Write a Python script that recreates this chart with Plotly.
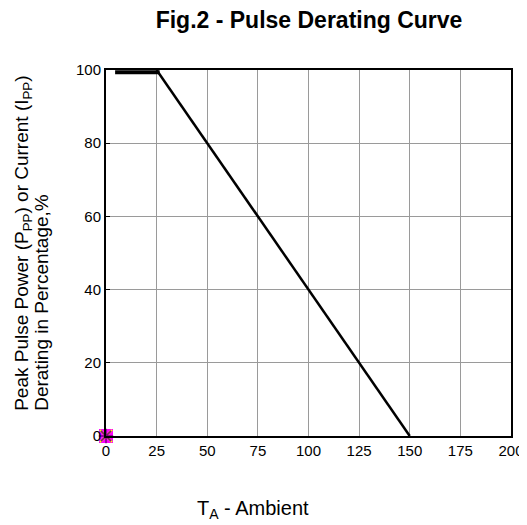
import plotly.graph_objects as go

# Data
derating_temp = [25, 150]          # T_A
derating_pct = [100, 0]            # % derating
flat_temp = [4.5, 26.5]            # flat top segment
flat_pct = [99.4, 99.4]
origin_x = [0]
origin_y = [0]
x_ticks = [0, 25, 50, 75, 100, 125, 150, 175, 200]
y_ticks = [0, 20, 40, 60, 80, 100]
y_title_lines = ["Peak Pulse Power (P<sub>PP</sub>) or Current (I<sub>PP</sub>)",
                 "Derating in Percentage,%"]

fig = go.Figure()
fig.add_trace(go.Scatter(x=flat_temp, y=flat_pct, mode="lines",
                         line=dict(color="black", width=4), cliponaxis=False,
                         showlegend=False, hoverinfo="skip"))
fig.add_trace(go.Scatter(x=derating_temp, y=derating_pct, mode="lines",
                         line=dict(color="black", width=2.5), cliponaxis=False,
                         showlegend=False))
fig.add_trace(go.Scatter(x=origin_x, y=origin_y, mode="markers", cliponaxis=False,
                         marker=dict(symbol="square", size=14, color="#ff00ff",
                                     line=dict(width=0)), showlegend=False))
fig.add_trace(go.Scatter(x=origin_x, y=origin_y, mode="markers", cliponaxis=False,
                         marker=dict(symbol="x-thin", size=12,
                                     line=dict(width=2, color="#ffff00")), showlegend=False))
fig.add_trace(go.Scatter(x=origin_x, y=origin_y, mode="markers", cliponaxis=False,
                         marker=dict(symbol="asterisk", size=12,
                                     line=dict(width=1.5, color="#800080")), showlegend=False))

font = "Liberation Sans, Arial, sans-serif"
annotations = []
for line_text, shift in zip(y_title_lines, [-83, -64]):
    annotations.append(dict(text=line_text, xref="paper", yref="paper", x=0, y=0.062,
                            xanchor="center", yanchor="bottom", xshift=shift,
                            textangle=-90, showarrow=False,
                            font=dict(size=19, family=font)))
annotations.append(dict(text="T<sub>A</sub> - Ambient", xref="paper", yref="paper",
                        x=0.364, y=0, xanchor="center", yanchor="middle", yshift=-73,
                        showarrow=False, font=dict(size=20, family=font)))

fig.update_layout(
    width=519, height=517,
    margin=dict(l=98, r=16, t=62, b=89, autoexpand=False),
    paper_bgcolor="white", plot_bgcolor="white",
    font=dict(family=font, color="black", size=15),
    title=dict(text="<b>Fig.2 - Pulse Derating Curve</b>", x=0.580, xref="container",
               xanchor="center", y=0.976, yref="container", yanchor="middle",
               font=dict(size=23, family=font)),
    xaxis=dict(range=[0, 200], tickvals=x_ticks, showgrid=True, gridcolor="#9a9a9a",
               gridwidth=1, zeroline=False, showline=True, linecolor="black",
               linewidth=2, mirror=True, ticks="", tickfont=dict(size=15)),
    yaxis=dict(range=[0, 100], tickvals=y_ticks, showgrid=True, gridcolor="#9a9a9a",
               gridwidth=1, zeroline=False, showline=True, linecolor="black",
               linewidth=2, mirror=True, ticks="inside", ticklen=4, tickcolor="black",
               tickfont=dict(size=15)),
    annotations=annotations,
)
fig.write_html("out.html")
